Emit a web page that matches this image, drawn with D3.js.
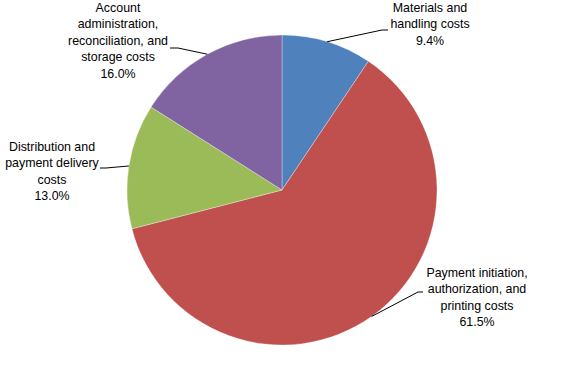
<!DOCTYPE html>
<html>
<head>
<meta charset="utf-8">
<script src="https://cdn.jsdelivr.net/npm/d3@7"></script>
<style>
  body { margin: 0; background: #fff; }
  text { font-family: "Liberation Sans", sans-serif; font-size: 12.4px; fill: #000; }
</style>
</head>
<body>
<div id="chart"></div>
<script>
let categories = [
  ["Materials and", "handling costs"],
  ["Payment initiation,", "authorization, and", "printing costs"],
  ["Distribution and", "payment delivery", "costs"],
  ["Account", "administration,", "reconciliation, and", "storage costs"]
]
let values = [9.4, 61.5, 13.0, 16.0]
let colors = ["#4F81BD", "#C0504D", "#9BBB59", "#8064A2"]

// label placement (centre x, first line y, leader start)
let labelPos = [
  { x: 430, y: 12, lx: 388, ly: 30, stub: -6 },
  { x: 477, y: 277, lx: 423, ly: 292, stub: -5 },
  { x: 52, y: 151, lx: 100, ly: 168, stub: 6 },
  { x: 118, y: 12, lx: 170, ly: 48, stub: 8 }
]

let width = 563, height = 375
let cx = 282, cy = 190, radius = 155

let svg = d3.select("#chart")
  .append("svg")
  .attr("width", width)
  .attr("height", height)

let pie = d3.pie().sort(null).value(d => d)
let arcs = pie(values)
let arc = d3.arc().innerRadius(0).outerRadius(radius)

let g = svg.append("g")
  .attr("transform", "translate(" + cx + "," + cy + ")")

g.selectAll("path")
  .data(arcs)
  .enter()
  .append("path")
  .attr("d", arc)
  .attr("fill", (d, i) => colors[i])
  .attr("stroke", "#ffffff")
  .attr("stroke-opacity", 0.4)
  .attr("stroke-width", 0.8)

// leader lines
arcs.forEach((d, i) => {
  let mid = (d.startAngle + d.endAngle) / 2
  let px = cx + Math.sin(mid) * radius
  let py = cy - Math.cos(mid) * radius
  let p = labelPos[i]
  svg.append("polyline")
    .attr("points", [[p.lx, p.ly], [p.lx + p.stub, p.ly], [px, py]].map(q => q.join(",")).join(" "))
    .attr("fill", "none")
    .attr("stroke", "#000")
    .attr("stroke-width", 1)
})

// labels
arcs.forEach((d, i) => {
  let p = labelPos[i]
  let lines = categories[i].concat([values[i].toFixed(1) + "%"])
  let t = svg.append("text")
    .attr("text-anchor", "middle")
  lines.forEach((l, j) => {
    t.append("tspan")
      .attr("x", p.x)
      .attr("y", p.y + j * 16.4)
      .text(l)
  })
})
</script>
</body>
</html>
